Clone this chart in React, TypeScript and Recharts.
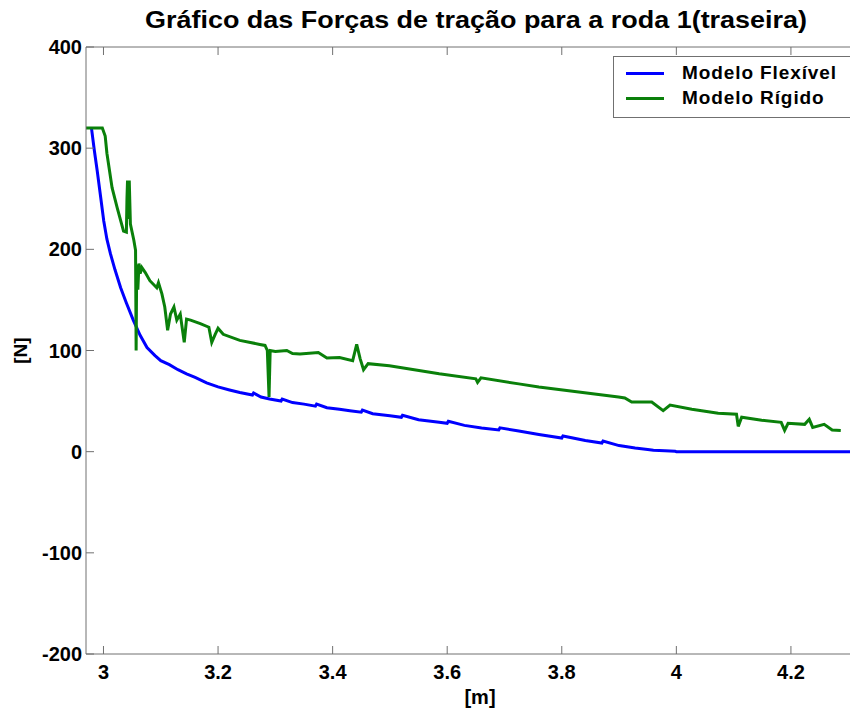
import React from 'react';
import { LineChart, Line, XAxis, YAxis, Label } from 'recharts';

const FONT = '"Liberation Sans", Arial, Helvetica, sans-serif';

const titleText = 'Gráfico das Forças de tração para a roda 1(traseira)';
const xLabel = '[m]';
const yLabel = '[N]';
const seriesNames = ['Modelo Flexível', 'Modelo Rígido'];
const seriesColors = ['#0000ff', '#0a800a'];

const xTicks = [3, 3.2, 3.4, 3.6, 3.8, 4, 4.2];
const yTicks = [-200, -100, 0, 100, 200, 300, 400];
const xDomain = [2.9695, 4.345];

// Modelo Flexível
const flexX = [
  2.979, 2.984, 2.989, 2.995, 3.0005, 3.006, 3.012, 3.02, 3.03, 3.04, 3.052, 3.064, 3.076,
  3.09, 3.1, 3.115, 3.13, 3.145, 3.16, 3.18, 3.2, 3.22, 3.238, 3.26, 3.262, 3.275, 3.29,
  3.31, 3.312, 3.33, 3.35, 3.37, 3.372, 3.39, 3.412, 3.43, 3.45, 3.452, 3.47, 3.5, 3.52,
  3.522, 3.55, 3.586, 3.6, 3.602, 3.63, 3.66, 3.69, 3.692, 3.725, 3.76, 3.8, 3.802, 3.841,
  3.87, 3.872, 3.9, 3.928, 3.95, 3.96, 3.98, 3.998, 4.0, 4.345,
];
const flexY = [
  320, 298, 278, 252, 228, 210, 196, 180, 162, 147, 130, 115, 103,
  95, 90, 86, 81, 77, 73.5, 68, 64, 61, 58.5, 56, 58, 54, 52,
  50, 52, 48.5, 47, 45, 47, 43.5, 42, 40.5, 39, 41, 37.5, 35.5, 34,
  36, 31.5, 29, 28, 30, 26, 23.5, 21.5, 23.5, 20.5, 17, 13.5, 15.5, 11,
  8.5, 10.5, 6, 3.6, 2.2, 1.5, 0.8, 0.3, 0, 0,
];

// Modelo Rígido
const rigX = [
  2.9695, 2.998, 3.003, 3.006, 3.015, 3.024, 3.035, 3.04, 3.041, 3.042, 3.044, 3.045, 3.047,
  3.053, 3.056, 3.057, 3.058, 3.06, 3.062, 3.064, 3.067, 3.073, 3.081, 3.093, 3.096, 3.102,
  3.107, 3.112, 3.117, 3.123, 3.128, 3.134, 3.141, 3.145, 3.152, 3.169, 3.184, 3.189, 3.195,
  3.2, 3.209, 3.238, 3.273, 3.282, 3.286, 3.289, 3.291, 3.3, 3.32, 3.33, 3.343, 3.375,
  3.39, 3.412, 3.435, 3.442, 3.448, 3.454, 3.462, 3.499, 3.586, 3.65, 3.653, 3.659, 3.725,
  3.76, 3.899, 3.91, 3.922, 3.957, 3.977, 3.989, 4.027, 4.073, 4.105, 4.108, 4.114, 4.149,
  4.183, 4.189, 4.195, 4.224, 4.232, 4.238, 4.258, 4.272, 4.287,
];
const rigY = [
  320, 320, 312, 295, 261, 241, 218, 217, 250, 268, 230, 268, 225,
  209, 199, 100, 185, 160, 186, 176, 182, 177, 169, 162, 167, 156,
  143, 120, 136, 143, 130, 136, 108, 131, 130, 126.5, 123, 108, 116,
  122, 116, 110, 106, 105, 100, 54, 100, 99, 100, 97, 96.5, 98,
  92.5, 93, 90, 106, 92, 81, 87, 85, 77, 72, 68.5, 73, 67,
  64, 54, 53, 49, 49, 40.5, 46, 42, 38, 37, 25, 34, 31,
  29, 21, 28, 27, 32, 24, 27, 21.5, 21,
];

const flexData = flexX.map((x, i) => ({ x, y: flexY[i] }));
const rigData = rigX.map((x, i) => ({ x, y: rigY[i] }));

const axisColor = '#707070';
const tickStyle = { fill: '#000', fontSize: 20, fontWeight: 700, fontFamily: FONT };

const LegendBox = () => (
  <div
    style={{
      position: 'absolute',
      left: 613,
      top: 56,
      width: 260,
      height: 62,
      boxSizing: 'border-box',
      border: `1px solid ${axisColor}`,
      background: '#fff',
      fontFamily: FONT,
      fontWeight: 700,
      fontSize: 19,
      letterSpacing: 0.9,
      color: '#000',
    }}
  >
    {seriesNames.map((name, i) => (
      <div
        key={name}
        style={{
          position: 'absolute',
          left: 12,
          top: 3 + i * 25,
          height: 26,
          display: 'flex',
          alignItems: 'center',
          whiteSpace: 'nowrap',
        }}
      >
        <span
          style={{
            display: 'inline-block',
            width: 38,
            height: 3,
            background: seriesColors[i],
            marginRight: 18,
          }}
        />
        <span>{name}</span>
      </div>
    ))}
  </div>
);

export default function App() {
  return (
    <div
      style={{
        position: 'absolute',
        left: 0,
        top: 0,
        width: 850,
        height: 713,
        overflow: 'hidden',
        background: '#fff',
      }}
    >
      <LineChart
        width={874}
        height={713}
        margin={{ top: 17, right: 0, bottom: 0, left: 0 }}
        style={{ background: '#fff' }}
      >
        <XAxis
          xAxisId="bottom"
          dataKey="x"
          type="number"
          domain={xDomain}
          allowDataOverflow
          ticks={xTicks}
          interval={0}
          height={59}
          tickSize={-8}
          tickMargin={19}
          stroke={axisColor}
          tick={tickStyle}
        >
          <Label
            value={xLabel}
            position="insideBottom"
            offset={9}
            style={{ fill: '#000', fontSize: 20, fontWeight: 700, fontFamily: FONT }}
          />
        </XAxis>
        <XAxis
          xAxisId="top"
          orientation="top"
          dataKey="x"
          type="number"
          domain={xDomain}
          allowDataOverflow
          ticks={xTicks}
          interval={0}
          height={30}
          tickSize={-8}
          tickFormatter={() => ''}
          stroke={axisColor}
        >
          <Label
            content={(props: any) => {
              const vb = props.viewBox || {};
              return (
                <text
                  x={vb.x + vb.width / 2 - 4}
                  y={vb.y + 2}
                  textAnchor="middle"
                  dominantBaseline="central"
                  textLength={662}
                  lengthAdjust="spacingAndGlyphs"
                  style={{ fontSize: 24, fontWeight: 700, fontFamily: FONT, fill: '#000' }}
                >
                  {titleText}
                </text>
              );
            }}
          />
        </XAxis>
        <YAxis
          yAxisId="left"
          type="number"
          domain={[-200, 400]}
          allowDataOverflow
          ticks={yTicks}
          interval={0}
          width={86}
          tickSize={-8}
          tickMargin={12}
          stroke={axisColor}
          tick={tickStyle}
        >
          <Label
            content={(props: any) => {
              const vb = props.viewBox || {};
              const cx = 20;
              const cy = vb.y + vb.height / 2;
              return (
                <text
                  x={cx}
                  y={cy}
                  transform={`rotate(-90 ${cx} ${cy})`}
                  textAnchor="middle"
                  dominantBaseline="central"
                  style={{ fontSize: 19, fontWeight: 700, fontFamily: FONT, fill: '#000' }}
                >
                  {yLabel}
                </text>
              );
            }}
          />
        </YAxis>
        <Line
          xAxisId="bottom"
          yAxisId="left"
          data={flexData}
          dataKey="y"
          name={seriesNames[0]}
          stroke={seriesColors[0]}
          strokeWidth={3}
          dot={false}
          activeDot={false}
          isAnimationActive={false}
          type="linear"
        />
        <Line
          xAxisId="bottom"
          yAxisId="left"
          data={rigData}
          dataKey="y"
          name={seriesNames[1]}
          stroke={seriesColors[1]}
          strokeWidth={3}
          dot={false}
          activeDot={false}
          isAnimationActive={false}
          type="linear"
        />
      </LineChart>
      <LegendBox />
    </div>
  );
}
